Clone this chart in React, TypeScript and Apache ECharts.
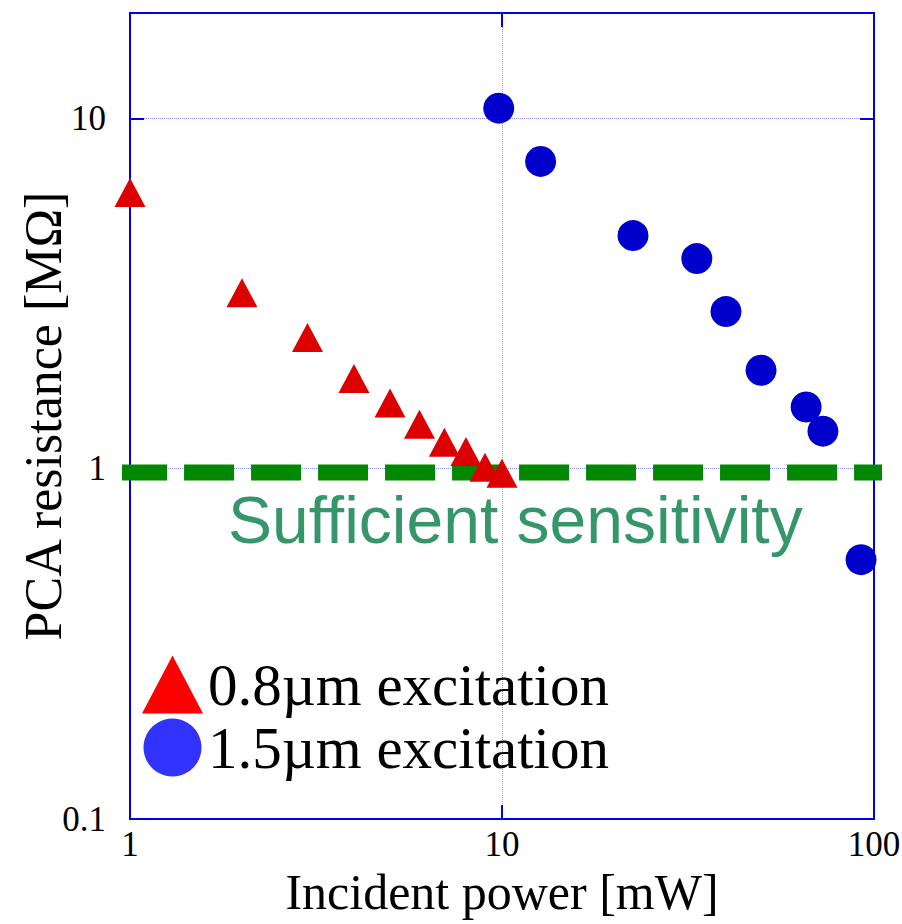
import React, { useEffect, useRef } from "react";
import * as echarts from "echarts";

const seriesNames = ["0.8µm excitation", "1.5µm excitation"];
const power08 = [1, 2, 3, 4, 5, 6, 7, 8, 9, 10];
const resist08 = [6.15, 3.18, 2.37, 1.81, 1.54, 1.34, 1.19, 1.12, 1.01, 0.97];
const power15 = [9.8, 12.7, 22.5, 33.4, 40.0, 49.7, 65.7, 72.9, 92.3];
const resist15 = [10.7, 7.54, 4.63, 3.98, 2.81, 1.91, 1.5, 1.28, 0.55];
const thresholdX = [0.923, 106.4];
const thresholdY = [0.975, 0.975];
const thresholdLabel = "Sufficient sensitivity";
const xTickLabels = ["1", "10", "100"];
const yTickLabels = ["0.1", "1", "10"];

const SERIF = "'Liberation Serif', 'Times New Roman', serif";
const SANS = "'Liberation Sans', Arial, sans-serif";
const AXIS_BLUE = "#0000e6";
const GRID_BLUE = "#8c8cff";

function fmtTick(labels: string[]) {
  return (v: number) => {
    const s = String(Number(v.toPrecision(6)));
    return labels.includes(s) ? s : "";
  };
}

export default function App() {
  const ref = useRef<HTMLDivElement>(null);
  useEffect(() => {
    if (!ref.current) return;
    const chart = echarts.init(ref.current, null, { renderer: "svg" });
    const d08 = power08.map((x, i) => [x, resist08[i]]);
    const d15 = power15.map((x, i) => [x, resist15[i]]);
    const dTh = thresholdX.map((x, i) => [x, thresholdY[i]]);
    const tickCommon = {
      show: true,
      inside: true,
      length: 14,
      lineStyle: { color: AXIS_BLUE, width: 2 },
    };
    chart.setOption({
      animation: false,
      backgroundColor: "#ffffff",
      grid: {
        left: 130,
        right: 28,
        top: 13,
        bottom: 105,
        containLabel: false,
        outerBoundsMode: "none",
        show: true,
        borderColor: AXIS_BLUE,
        borderWidth: 2,
        backgroundColor: "transparent",
      },
      legend: {
        show: true,
        orient: "vertical",
        left: 142,
        top: 655,
        padding: 0,
        itemWidth: 61,
        itemHeight: 58,
        itemGap: 4,
        selectedMode: false,
        textStyle: {
          fontFamily: SERIF,
          fontSize: 59,
          lineHeight: 58,
          color: "#000000",
        },
        data: [
          { name: seriesNames[0], icon: "triangle", itemStyle: { color: "#ff0000", opacity: 1 } },
          { name: seriesNames[1], icon: "circle", itemStyle: { color: "#3333ff", opacity: 1 } },
        ],
      },
      xAxis: [
        {
          type: "log",
          logBase: 10,
          min: 1,
          max: 100,
          name: "Incident power [mW]",
          nameLocation: "middle",
          nameGap: 46,
          nameTextStyle: { fontFamily: SERIF, fontSize: 50, color: "#000" },
          axisLine: { show: true, lineStyle: { color: AXIS_BLUE, width: 2 } },
          axisTick: tickCommon,
          minorTick: { show: false },
          axisLabel: {
            fontFamily: SERIF,
            fontSize: 35,
            color: "#000",
            margin: 8,
            formatter: fmtTick(xTickLabels),
          },
          splitLine: { show: true, lineStyle: { color: GRID_BLUE, width: 1, type: "dotted" } },
        },
        {
          type: "log",
          logBase: 10,
          min: 1,
          max: 100,
          position: "top",
          axisLine: { show: true, lineStyle: { color: AXIS_BLUE, width: 2 } },
          axisTick: tickCommon,
          axisLabel: { show: false },
          splitLine: { show: false },
        },
      ],
      yAxis: [
        {
          type: "log",
          logBase: 10,
          min: 0.1,
          max: 20,
          name: "PCA resistance [MΩ]",
          nameLocation: "middle",
          nameGap: 61,
          nameMoveOverlap: false,
          nameTextStyle: { fontFamily: SERIF, fontSize: 52, color: "#000", lineHeight: 52 },
          axisLine: { show: true, lineStyle: { color: AXIS_BLUE, width: 2 } },
          axisTick: tickCommon,
          minorTick: { show: false },
          axisLabel: {
            fontFamily: SERIF,
            fontSize: 35,
            color: "#000",
            margin: 24,
            padding: [0, 0, 9, 0],
            formatter: fmtTick(yTickLabels),
          },
          splitLine: { show: true, lineStyle: { color: GRID_BLUE, width: 1, type: "dotted" } },
        },
        {
          type: "log",
          logBase: 10,
          min: 0.1,
          max: 20,
          position: "right",
          axisLine: { show: true, lineStyle: { color: AXIS_BLUE, width: 2 } },
          axisTick: tickCommon,
          axisLabel: { show: false },
          splitLine: { show: false },
        },
      ],
      series: [
        {
          name: "threshold",
          type: "line",
          data: dTh,
          clip: false,
          symbol: "none",
          silent: true,
          lineStyle: { color: "#008800", width: 16, type: [50, 17], cap: "butt", opacity: 1 },
          z: 3,
        },
        {
          name: seriesNames[0],
          type: "scatter",
          data: d08,
          symbol: "triangle",
          symbolSize: [31, 29],
          itemStyle: { color: "#dd0000", opacity: 1 },
          z: 4,
        },
        {
          name: seriesNames[1],
          type: "scatter",
          data: d15,
          symbol: "circle",
          symbolSize: 31,
          clip: false,
          itemStyle: { color: "#0000cc", opacity: 1 },
          z: 4,
        },
      ],
      graphic: [
        {
          type: "text",
          left: 228,
          top: 487,
          style: {
            text: thresholdLabel,
            font: `66px ${SANS}`,
            fill: "#35956b",
          },
          z: 10,
        },
      ],
    });
    return () => chart.dispose();
  }, []);
  return (
    <div
      ref={ref}
      style={{ position: "fixed", left: 0, top: 0, width: 902, height: 924 }}
    />
  );
}
